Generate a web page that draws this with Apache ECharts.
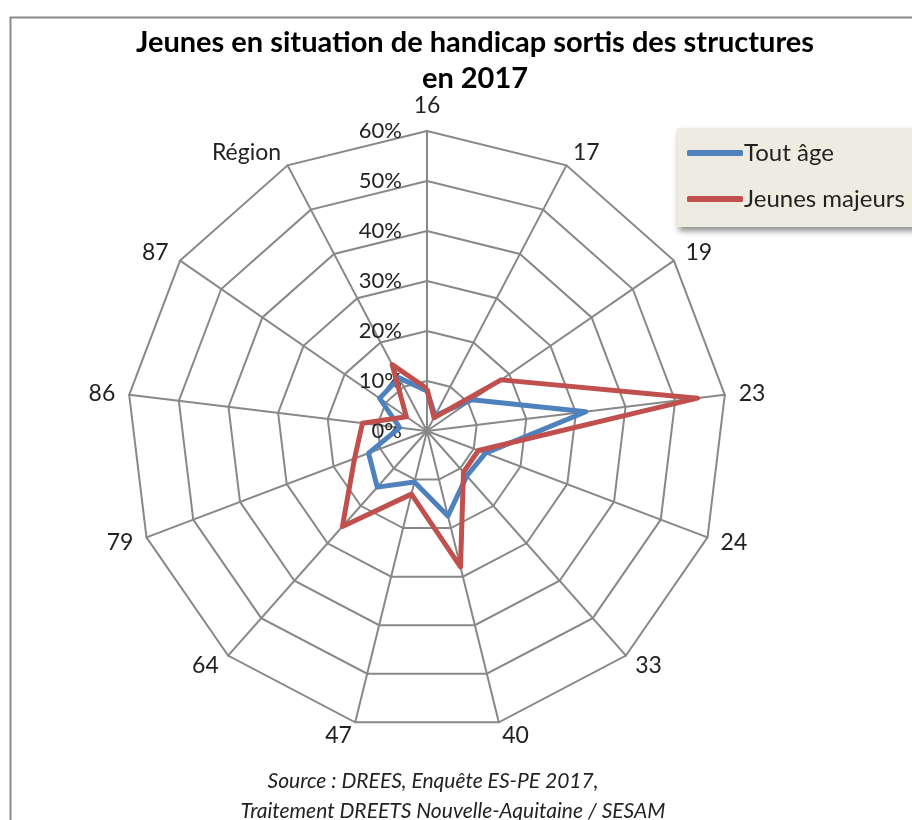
<!DOCTYPE html>
<html>
<head>
<meta charset="utf-8">
<script src="https://cdn.jsdelivr.net/npm/echarts@6/dist/echarts.min.js"></script>
<style>
html, body { margin: 0; padding: 0; background: #fff; }
#main { width: 912px; height: 820px; }
</style>
</head>
<body>
<div id="main"></div>
<script>
// départements, dans le sens des aiguilles d'une montre à partir du haut
var categories = ['16', '17', '19', '23', '24', '33', '40', '47', '64', '79', '86', '87', 'Région'];
var toutAge = [8, 3.5, 11, 32, 12.5, 12, 17.5, 10.5, 15, 12.5, 5.5, 11.5, 12];
var jeunesMajeurs = [8.5, 3, 18, 54.5, 11, 11, 28, 13, 25.5, 15.5, 13, 5, 15];
var seriesNames = ['Tout âge', 'Jeunes majeurs'];
var maxValue = 60;

// echarts tourne dans le sens inverse -> on inverse l'ordre (16 reste en haut)
function reorder(arr) {
    var out = [arr[0]];
    for (var i = arr.length - 1; i > 0; i--) {
        out.push(arr[i]);
    }
    return out;
}

var indicators = reorder(categories).map(function (c, i) {
    var ind = { name: c, max: maxValue, min: 0 };
    if (i == 0) {
        ind.axisLabel = { show: true };   // libellés % seulement sur l'axe 16
    }
    return ind;
});

var myChart = echarts.init(document.getElementById('main'));

var option = {
    backgroundColor: '#fff',
    animation: false,
    title: [
        {
            text: 'Jeunes en situation de handicap sortis des structures\nen 2017',
            left: 470,
            top: 20,
            textAlign: 'center',
            textStyle: {
                fontFamily: 'Lato',
                fontWeight: 'bold',
                fontSize: 29,
                lineHeight: 36,
                color: '#000'
            }
        },
        {
            text: 'Source : DREES, Enquête ES-PE 2017,',
            left: 428,
            top: 766,
            textAlign: 'center',
            textStyle: {
                fontFamily: 'Lato',
                fontStyle: 'italic',
                fontWeight: 'normal',
                fontSize: 21,
                color: '#222'
            }
        },
        {
            text: 'Traitement DREETS Nouvelle-Aquitaine / SESAM',
            left: 448,
            top: 796,
            textAlign: 'center',
            textStyle: {
                fontFamily: 'Lato',
                fontStyle: 'italic',
                fontWeight: 'normal',
                fontSize: 21,
                color: '#222'
            }
        }
    ],
    legend: {
        data: seriesNames,
        orient: 'vertical',
        left: 677,
        top: 128,
        padding: [13, 40, 16, 10],
        itemGap: 22,
        icon: 'roundRect',
        itemWidth: 56,
        itemHeight: 6,
        backgroundColor: '#EEECE1',
        shadowColor: 'rgba(0,0,0,0.45)',
        shadowBlur: 6,
        shadowOffsetX: 2,
        shadowOffsetY: 4,
        textStyle: {
            fontFamily: 'Lato',
            fontSize: 24,
            color: '#222',
            padding: [0, 0, 0, -4]
        }
    },
    graphic: [
        {
            type: 'rect',
            left: 8,
            top: 15,
            shape: { width: 1000, height: 1000 },
            style: { fill: 'none', stroke: '#8a8a8a', lineWidth: 2 },
            silent: true
        }
    ],
    radar: {
        center: [427, 431],
        radius: 300,
        startAngle: 90,
        shape: 'polygon',
        splitNumber: 6,
        indicator: indicators,
        axisName: {
            fontFamily: 'Lato',
            fontSize: 23,
            color: '#222'
        },
        nameGap: 14,
        axisLine: { lineStyle: { color: '#888', width: 2 } },
        splitLine: { lineStyle: { color: '#888', width: 2 } },
        splitArea: { show: false },
        axisTick: { show: false },
        axisLabel: {
            show: false,
            formatter: '{value}%',
            fontFamily: 'Lato',
            fontSize: 22,
            color: '#222',
            margin: 8,
            align: 'right',
            padding: [0, 17, 0, 0]
        }
    },
    series: [
        {
            type: 'radar',
            symbol: 'none',
            data: [
                {
                    name: seriesNames[0],
                    value: reorder(toutAge),
                    lineStyle: { color: '#4F81BD', width: 5 },
                    itemStyle: { color: '#4F81BD' }
                },
                {
                    name: seriesNames[1],
                    value: reorder(jeunesMajeurs),
                    lineStyle: { color: '#C0504D', width: 5 },
                    itemStyle: { color: '#C0504D' }
                }
            ]
        }
    ]
};

myChart.setOption(option);
</script>
</body>
</html>
